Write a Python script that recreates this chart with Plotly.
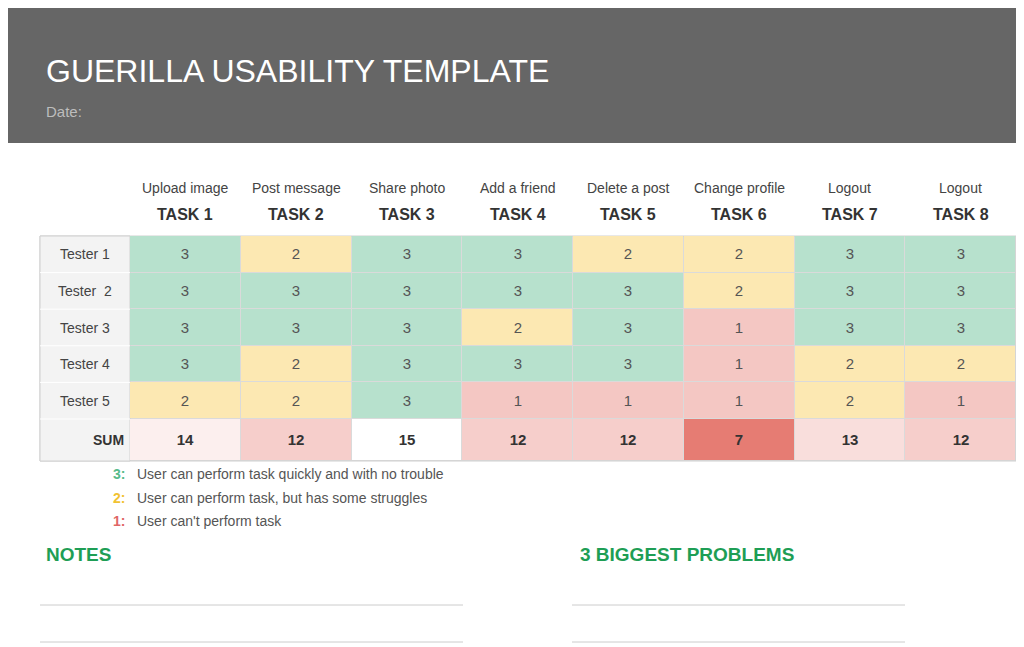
import plotly.graph_objects as go

testers = ["Tester 1", "Tester  2", "Tester 3", "Tester 4", "Tester 5"]
tasks = ["TASK 1", "TASK 2", "TASK 3", "TASK 4", "TASK 5", "TASK 6", "TASK 7", "TASK 8"]
task_names = ["Upload image", "Post message", "Share photo", "Add a friend",
              "Delete a post", "Change profile", "Logout", "Logout"]
scores = [
    [3, 2, 3, 3, 2, 2, 3, 3],
    [3, 3, 3, 3, 3, 2, 3, 3],
    [3, 3, 3, 2, 3, 1, 3, 3],
    [3, 2, 3, 3, 3, 1, 2, 2],
    [2, 2, 3, 1, 1, 1, 2, 1],
]
sums = [sum(r[i] for r in scores) for i in range(len(tasks))]
legend_keys = ["3:", "2:", "1:"]
legend_text = ["User can perform task quickly and with no trouble",
               "User can perform task, but has some struggles",
               "User can't perform task"]

# pixel layout (page has an 8px body margin, so axes are offset by 8)
OFF = 8
X0, CW = 114, 110.75
Y0, RH = 220, 36.6
SUM_H = 42
ysum = Y0 + RH * len(testers)
font = "Liberation Sans, Arial"

fig = go.Figure()

# score cells
fig.add_trace(go.Heatmap(
    z=scores, x0=X0 + CW / 2, dx=CW, y0=Y0 + RH / 2, dy=RH,
    zmin=1, zmax=3,
    colorscale=[[0, "#f4c7c3"], [0.333, "#f4c7c3"], [0.333, "#fce8b2"],
                [0.667, "#fce8b2"], [0.667, "#b7e1cd"], [1, "#b7e1cd"]],
    showscale=False, xgap=1, ygap=1, hoverinfo="skip",
    texttemplate="%{z}", textfont=dict(family=font, size=15, color="#555")))

# sum row
fig.add_trace(go.Heatmap(
    z=[sums], x0=X0 + CW / 2, dx=CW, y0=ysum + SUM_H / 2, dy=SUM_H,
    zmin=min(sums), zmax=max(sums),
    colorscale=[[0, "#e67c73"], [1, "#ffffff"]],
    showscale=False, xgap=1, ygap=1, hoverinfo="skip",
    texttemplate="<b>%{z}</b>", textfont=dict(family=font, size=15, color="#333")))

shapes = [
    dict(type="rect", x0=-OFF, x1=1024, y0=-OFF, y1=127, fillcolor="#666666", line_width=0, layer="below"),
    dict(type="rect", x0=24, x1=1000, y0=Y0, y1=ysum + SUM_H, fillcolor="#dadada",
         line=dict(color="#d0d0d0", width=1), layer="below"),
    dict(type="rect", x0=24, x1=X0, y0=Y0, y1=ysum + SUM_H, fillcolor="#f3f3f3",
         line=dict(color="#d0d0d0", width=1), layer="below"),
]
for i in range(1, len(testers) + 1):
    shapes.append(dict(type="line", x0=24, x1=X0, y0=Y0 + RH * i, y1=Y0 + RH * i,
                       line=dict(color="#ffffff", width=1)))
for (a, b) in [(24, 447), (556, 889)]:
    for y in (589, 626):
        shapes.append(dict(type="line", x0=a, x1=b, y0=y, y1=y, line=dict(color="#cccccc", width=1)))

ann = [
    dict(x=28, y=55, text="GUERILLA USABILITY TEMPLATE", xanchor="left",
         font=dict(family=font, size=32, color="white")),
    dict(x=28, y=95, text="Date:", xanchor="left", font=dict(family=font, size=15, color="#bdbdbd")),
]
for i, (t, n) in enumerate(zip(tasks, task_names)):
    cx = X0 + CW * (i + 0.5)
    ann.append(dict(x=cx, y=172, text=n, font=dict(family=font, size=14, color="#444")))
    ann.append(dict(x=cx, y=198, text="<b>" + t + "</b>", font=dict(family=font, size=16, color="#333")))
for i, t in enumerate(testers):
    ann.append(dict(x=69, y=Y0 + RH * (i + 0.5), text=t, font=dict(family=font, size=14, color="#444")))
ann.append(dict(x=110, y=ysum + SUM_H / 2, text="<b>SUM</b>", xanchor="right",
                font=dict(family=font, size=14, color="#333")))
key_colors = ["#57bb8a", "#f1c232", "#e06666"]
for i, (k, t) in enumerate(zip(legend_keys, legend_text)):
    y = 458 + 23.5 * i
    ann.append(dict(x=111, y=y, text="<b>" + k + "</b>", xanchor="right",
                    font=dict(family=font, size=14, color=key_colors[i])))
    ann.append(dict(x=119, y=y, text=t, xanchor="left", font=dict(family=font, size=14, color="#555")))
for x, t in [(28, "NOTES"), (562, "3 BIGGEST PROBLEMS")]:
    ann.append(dict(x=x, y=538, text="<b>" + t + "</b>", xanchor="left",
                    font=dict(family=font, size=19, color="#1e9e55")))
for a in ann:
    a.update(showarrow=False, xref="x", yref="y")

fig.update_layout(
    width=1024, height=647, margin=dict(l=0, r=0, t=0, b=0),
    paper_bgcolor="white", plot_bgcolor="white",
    xaxis=dict(range=[-OFF, 1024 - OFF], visible=False, fixedrange=True),
    yaxis=dict(range=[647 - OFF, -OFF], visible=False, fixedrange=True),
    shapes=shapes, annotations=ann,
)
fig.write_html("out.html")
